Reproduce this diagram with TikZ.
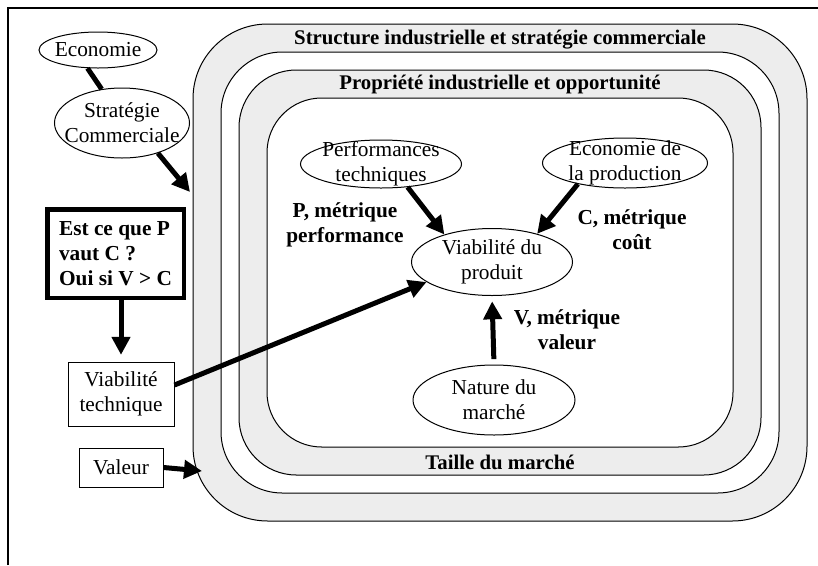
\documentclass[tikz,border=0pt]{standalone}
\usepackage{fontspec}
\setmainfont{Liberation Serif}
\usetikzlibrary{shapes.geometric,arrows.meta}
\definecolor{bandgray}{HTML}{EDEDED}
\begin{document}
\begin{tikzpicture}[x=0.75pt,y=-0.75pt,
  bubble/.style={ellipse, draw, line width=0.75pt, inner sep=-12pt, align=center,
                 font=\fontsize{16}{18.75}\selectfont},
  plainbox/.style={rectangle, draw, line width=0.75pt, inner sep=0pt, align=center,
                 font=\fontsize{16}{18.75}\selectfont},
  boldlabel/.style={inner sep=0pt, align=center, font=\fontsize{16}{18.75}\selectfont\bfseries},
  bandtitle/.style={inner sep=0pt, font=\fontsize{15.6}{18}\selectfont\bfseries},
  thickarrow/.style={line width=3.75pt, -{Triangle[length=13.5pt,width=13.5pt]}},
  thickline/.style={line width=3.75pt},
  band/.style={draw, line width=0.75pt, fill=bandgray},
  gap/.style={draw, line width=0.75pt, fill=white}]

\useasboundingbox (0,0) rectangle (818,565);

% page frame (top and left edges)
\draw[line width=1.2pt] (8,565) -- (8,8) -- (818,8);

% nested context bands
\draw[band, rounded corners=56pt] (193,24) rectangle (807,521);
\draw[gap,  rounded corners=46pt] (221,52) rectangle (779,493);
\draw[band, rounded corners=43pt] (239,70) rectangle (761,475);
\draw[gap,  rounded corners=41pt] (267,98) rectangle (733,447);

\node[bandtitle] (t1) at (500,40) {Structure industrielle et stratégie commerciale};
\node[bandtitle] (t2) at (500,84) {Propriété industrielle et opportunité};
\node[bandtitle] (t3) at (500,462) {Taille du marché};

% outside elements
\node[bubble, minimum width=88.5pt, minimum height=27pt] (eco) at (98,50) {Economie};
\node[bubble, minimum width=101.25pt, minimum height=52.5pt] (strat) at (122,123) {Stratégie\\Commerciale};

\node[rectangle, draw, line width=3.4pt, minimum width=102.4pt, minimum height=66.4pt,
      inner sep=0pt, align=left, font=\fontsize{16}{18.75}\selectfont\bfseries]
      (q) at (115.5,253.5) {Est ce que P\\vaut C ?\\Oui si V > C};

\node[plainbox, minimum width=79.5pt, minimum height=48pt] (vt) at (121,394) {Viabilité\\technique};
\node[plainbox, minimum width=63pt, minimum height=29.25pt] (val) at (121,467.5) {Valeur};

\coordinate (band1nw) at (190,192);
\coordinate (band1sw) at (202,471);

% inner elements
\node[bubble, minimum width=120.75pt, minimum height=36pt] (perf) at (381,164) {Performances\\techniques};
\node[bubble, minimum width=123.75pt, minimum height=37.5pt] (prod) at (625,163) {Economie de\\la production};
\node[bubble, minimum width=120.75pt, minimum height=50.25pt] (vp) at (492,262) {Viabilité du\\produit};
\node[bubble, minimum width=121.5pt, minimum height=52.5pt] (nm) at (494,400) {Nature du\\marché};

\node[boldlabel] (lp) at (345,225) {P, métrique\\performance};
\node[boldlabel] (lc) at (632,230) {C, métrique\\coût};
\node[boldlabel] (lv) at (567,330) {V, métrique\\valeur};

% connectors
\draw[thickline] (eco.240) -- (strat.121);
\draw[thickarrow] (strat.320) -- (band1nw);
\draw[thickarrow, shorten >=5pt] (vt.north |- q.south) -- (vt.north);
\draw[thickarrow] ([yshift=6.75pt]vt.east) -- (vp.197);
\draw[thickarrow] (val.east) -- (band1sw);
\draw[thickarrow] (perf.319) -- (vp.150);
\draw[thickarrow] (prod.204) -- (vp.32);
\draw[thickarrow, shorten <=4pt, shorten >=4pt] (nm.north) -- (vp.south);
\end{tikzpicture}
\end{document}
